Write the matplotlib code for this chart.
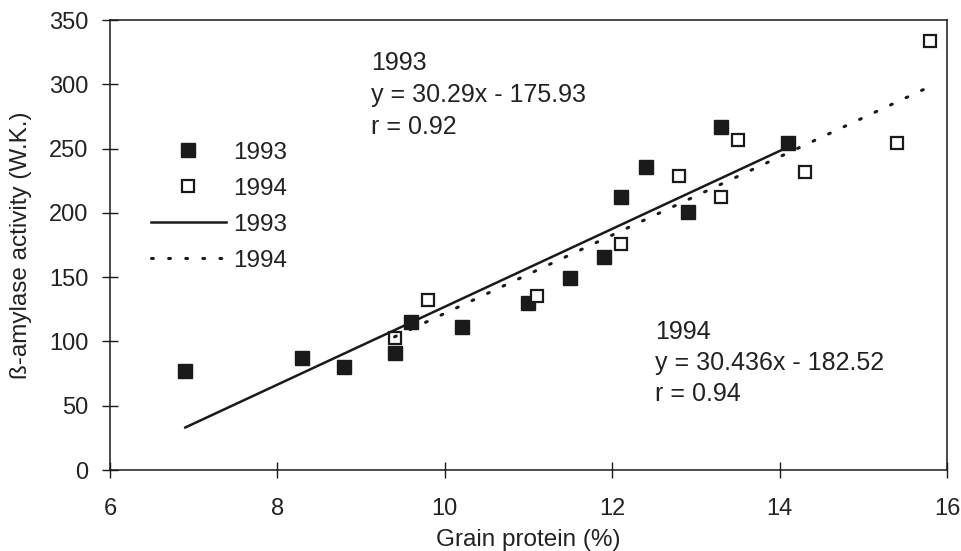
import numpy as np
from matplotlib import pyplot as plt
from matplotlib.lines import Line2D

# Data
x1993 = [6.9, 8.3, 8.8, 9.4, 9.6, 10.2, 11.0, 11.5, 11.9, 12.1, 12.4, 12.9, 13.3, 14.1]
y1993 = [77, 87, 80, 91, 115, 111, 130, 149, 166, 212, 236, 201, 267, 254]
x1994 = [9.4, 9.8, 11.1, 12.1, 12.8, 13.3, 13.5, 14.3, 15.4, 15.8]
y1994 = [103, 132, 135, 176, 229, 212, 257, 232, 254, 334]

# Regression coefficients (slope, intercept) as printed on the chart
fit1993 = (30.29, -175.93)
fit1994 = (30.436, -182.52)
r1993 = 0.92
r1994 = 0.94

xticks = [6, 8, 10, 12, 14, 16]
yticks = [0, 50, 100, 150, 200, 250, 300, 350]

plt.rcParams['font.family'] = ['Liberation Sans', 'DejaVu Sans']
ink = '#1a1a1a'
txt = '#222222'
fs = 17.5

fig = plt.figure(figsize=(9.62, 5.51), dpi=100)
ax = fig.add_axes([0.1143, 0.147, 0.8701, 0.8167])

# scatter points
ax.plot(x1993, y1993, 's', color=ink, markersize=9.5, markeredgecolor=ink, label='1993')
ax.plot(x1994, y1994, 's', markerfacecolor='white', markeredgecolor=ink, markeredgewidth=1.6,
        markersize=9, label='1994')

# regression lines over each year's x range
xl1 = np.array([min(x1993), max(x1993)])
xl2 = np.array([min(x1994), max(x1994)])
ax.plot(xl1, fit1993[0] * xl1 + fit1993[1], '-', color=ink, lw=1.8, label='1993')
ax.plot(xl2, fit1994[0] * xl2 + fit1994[1], color=ink, lw=2.2, linestyle=(0, (0.6, 5.0)),
        dash_capstyle='round', label='1994')

# equation labels
ax.text(9.12, 326, "1993\ny = %.2fx - %.2f\nr = %.2f" % (fit1993[0], -fit1993[1], r1993),
        fontsize=18, color=txt, va='top', ha='left', linespacing=1.42)
ax.text(12.51, 117, "1994\ny = %.3fx - %.2f\nr = %.2f" % (fit1994[0], -fit1994[1], r1994),
        fontsize=18, color=txt, va='top', ha='left', linespacing=1.37)

ax.set_xlim(6, 16)
ax.set_ylim(0, 350)
ax.set_xticks(xticks)
ax.set_yticks(yticks)
ax.tick_params(direction='inout', length=11, width=1, colors=ink, labelcolor=txt, labelsize=17)
ax.tick_params(axis='y', pad=10)
ax.tick_params(axis='x', pad=15)
for sp in ax.spines.values():
    sp.set_color(ink)
    sp.set_linewidth(1.1)

ax.set_xlabel('Grain protein (%)', fontsize=fs, color=txt, labelpad=6)
ax.set_ylabel('ß-amylase activity (W.K.)', fontsize=fs, color=txt, labelpad=12)

leg = ax.legend(loc='upper left', bbox_to_anchor=(0.034, 0.757), frameon=False, fontsize=fs,
                handlelength=3.1, handletextpad=0.3, labelspacing=0.58, borderpad=0)
for t in leg.get_texts():
    t.set_color(txt)

fig.savefig('out.png', dpi=100)
